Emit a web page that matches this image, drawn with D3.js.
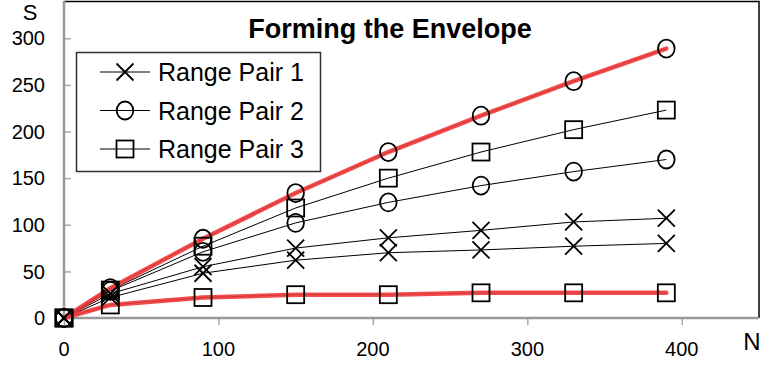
<!DOCTYPE html>
<html>
<head>
<meta charset="utf-8">
<script src="https://cdn.jsdelivr.net/npm/d3@7"></script>
<style>
  body { margin: 0; background: #fff; }
  text { font-family: "Liberation Sans", Arial, sans-serif; }
</style>
</head>
<body>
<div id="chart"></div>
<script>
// data
var nValues = [0, 30, 90, 150, 210, 270, 330, 390];
var pair1a = [0, 26, 55, 75, 86, 94, 103, 107];
var pair1b = [0, 22, 48, 62, 70, 73, 77, 80];
var pair2a = [0, 32, 85, 134, 178, 217, 254, 289];
var pair2b = [0, 29, 71, 102, 124, 142, 157, 170];
var pair3a = [0, 30, 77, 118, 150, 178, 202, 223];
var pair3b = [0, 14, 22, 25, 25, 27, 27, 27];
var xTicks = [0, 100, 200, 300, 400];
var yTicks = [0, 50, 100, 150, 200, 250, 300];
var legendNames = ["Range Pair 1", "Range Pair 2", "Range Pair 3"];

var series = [
  {values: pair1a, marker: "x"},
  {values: pair1b, marker: "x"},
  {values: pair2a, marker: "circle"},
  {values: pair2b, marker: "circle"},
  {values: pair3a, marker: "square"},
  {values: pair3b, marker: "square"}
];
// envelope = top circles and bottom squares
var envelopes = [pair2a, pair3b];

var W = 766, H = 374;
var margin = {top: 1, right: 7, bottom: 56, left: 64},
    width = W - margin.left - margin.right,
    height = H - margin.top - margin.bottom;

var svg = d3.select("#chart").append("svg")
    .attr("width", W).attr("height", H);
var g = svg.append("g")
    .attr("transform", "translate(" + margin.left + "," + margin.top + ")");

var x = d3.scaleLinear().domain([0, 450]).range([0, width]);
var y = d3.scaleLinear().domain([0, 340]).range([height, 0]);

// frame: black top/right
g.append("path")
  .attr("d", "M0,0.5H" + width + "V" + height)
  .attr("fill", "none").attr("stroke", "#000").attr("stroke-width", 1.5);

// y axis, ticks pointing inwards
var yAxis = g.append("g")
  .call(d3.axisRight(y).tickValues(yTicks).tickSize(7).tickFormat(""));
yAxis.select(".domain").remove();
yAxis.selectAll("line").attr("stroke", "#aaa").attr("stroke-width", 1.5);
g.selectAll(".ylab").data(yTicks).enter().append("text")
  .attr("x", -19).attr("y", function(d) { return y(d); })
  .attr("dy", "0.36em").attr("text-anchor", "end")
  .style("font-size", "20px").text(function(d) { return d; });

// x axis
var xAxis = g.append("g").attr("transform", "translate(0," + height + ")")
  .call(d3.axisBottom(x).tickValues(xTicks).tickSize(7).tickFormat(""));
xAxis.select(".domain").remove();
xAxis.selectAll("line").attr("stroke", "#aaa").attr("stroke-width", 1.5);
g.selectAll(".xlab").data(xTicks).enter().append("text")
  .attr("x", function(d) { return x(d); }).attr("y", height + 38)
  .attr("text-anchor", "middle")
  .style("font-size", "20px").text(function(d) { return d; });

// axis lines
g.append("line").attr("x1", 0).attr("x2", 0).attr("y1", 0).attr("y2", height)
  .attr("stroke", "#999").attr("stroke-width", 2.5);
g.append("line").attr("x1", 0).attr("x2", width).attr("y1", height).attr("y2", height)
  .attr("stroke", "#999").attr("stroke-width", 2.5);

// axis names
svg.append("text").attr("x", 30).attr("y", 20).attr("text-anchor", "middle")
  .style("font-size", "22px").text("S");
svg.append("text").attr("x", 752).attr("y", 350).attr("text-anchor", "middle")
  .style("font-size", "24px").text("N");

var line = d3.line()
  .x(function(d, i) { return x(nValues[i]); })
  .y(function(d) { return y(d); });

// thin black lines
g.selectAll(".sline").data(series).enter().append("path")
  .attr("d", function(d) { return line(d.values); })
  .attr("fill", "none").attr("stroke", "#000").attr("stroke-width", 1);

// red envelope
g.selectAll(".env").data(envelopes).enter().append("path")
  .attr("d", function(d) { return line(d); })
  .attr("fill", "none").attr("stroke", "#ef3a3a").attr("stroke-opacity", 0.9)
  .attr("stroke-width", 4.5).attr("stroke-linecap", "round");

function drawMarker(sel, type, cx, cy) {
  var s = 8.5;
  if (type === "x") {
    sel.append("path")
      .attr("d", "M" + (cx - s) + "," + (cy - s) + "L" + (cx + s) + "," + (cy + s) +
                 "M" + (cx - s) + "," + (cy + s) + "L" + (cx + s) + "," + (cy - s))
      .attr("stroke", "#000").attr("stroke-width", 1.8).attr("fill", "none");
  } else if (type === "circle") {
    sel.append("ellipse").attr("cx", cx).attr("cy", cy).attr("rx", 8.3).attr("ry", 9)
      .attr("stroke", "#000").attr("stroke-width", 1.8).attr("fill", "none");
  } else {
    sel.append("rect").attr("x", cx - s).attr("y", cy - s)
      .attr("width", 2 * s).attr("height", 2 * s)
      .attr("stroke", "#000").attr("stroke-width", 1.8).attr("fill", "none");
  }
}

// markers
var markerLayer = g.append("g");
series.forEach(function(s) {
  s.values.forEach(function(v, i) {
    drawMarker(markerLayer, s.marker, x(nValues[i]), y(v));
  });
});

// legend
var legend = svg.append("g");
legend.append("rect").attr("x", 76.5).attr("y", 52.5).attr("width", 244).attr("height", 119)
  .attr("fill", "#fff").attr("stroke", "#333").attr("stroke-width", 1.5);
var legendMarkers = ["x", "circle", "square"];
legendNames.forEach(function(name, i) {
  var ly = 72 + i * 38.5;
  legend.append("line").attr("x1", 100).attr("x2", 150).attr("y1", ly).attr("y2", ly)
    .attr("stroke", "#000").attr("stroke-width", 1);
  drawMarker(legend, legendMarkers[i], 125, ly);
  legend.append("text").attr("x", 158).attr("y", ly + 9)
    .style("font-size", "25px").text(name);
});

// title
svg.append("text").attr("x", 390).attr("y", 38).attr("text-anchor", "middle")
  .style("font-size", "27px").style("font-weight", "bold")
  .text("Forming the Envelope");
</script>
</body>
</html>
